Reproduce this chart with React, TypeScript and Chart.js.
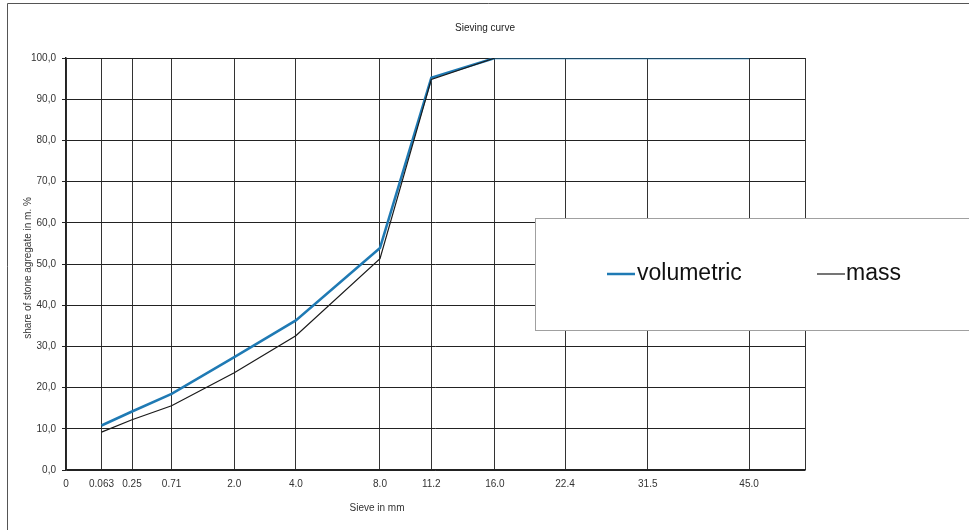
import React, { useEffect, useRef } from "react";
import { Chart, registerables, LinearScale } from "chart.js";

const TITLE = "Sieving curve";
const X_TITLE = "Sieve in mm";
const Y_TITLE = "share of stone agregate in m. %";

const SIEVES = [0.063, 0.25, 0.71, 2.0, 4.0, 8.0, 11.2, 16.0, 22.4, 31.5, 45.0];
const VOLUMETRIC = [10.8, 14.2, 18.5, 27.4, 36.3, 53.9, 95.2, 100, 100, 100, 100];
const MASS = [9.2, 12.2, 15.6, 23.6, 32.6, 51.3, 94.8, 100, 100, 100, 100];
const X_TICK_VALUES = [0, 0.063, 0.25, 0.71, 2.0, 4.0, 8.0, 11.2, 16.0, 22.4, 31.5, 45.0];
const X_TICK_LABELS = ["0", "0.063", "0.25", "0.71", "2.0", "4.0", "8.0", "11.2", "16.0", "22.4", "31.5", "45.0"];
const X_MAX = 53.6;
const EXPONENT = 0.45;

const SERIES_NAMES = ["volumetric", "mass"];
const SERIES_COLORS = ["#1f7ab4", "#1a1a1a"];

class PowerScale extends LinearScale {
  static id = "power";
  static defaults = {};
  tr(v: number) {
    return Math.pow(Math.max(v, 0), EXPONENT);
  }
  getPixelForValue(value: number) {
    const a = this.tr(this.min);
    const b = this.tr(this.max);
    return this.getPixelForDecimal((this.tr(value) - a) / (b - a));
  }
  getValueForPixel(pixel: number) {
    const a = this.tr(this.min);
    const b = this.tr(this.max);
    const d = this.getDecimalForPixel(pixel);
    return Math.pow(a + d * (b - a), 1 / EXPONENT);
  }
}

Chart.register(...registerables, PowerScale as any);

const FONT = "'Liberation Sans', Arial, sans-serif";

const decorPlugin = {
  id: "decor",
  beforeDraw(chart: any) {
    const ctx = chart.ctx;
    ctx.save();
    ctx.fillStyle = "#ffffff";
    ctx.fillRect(0, 0, chart.width, chart.height);
    ctx.strokeStyle = "#555555";
    ctx.lineWidth = 1;
    ctx.beginPath();
    ctx.moveTo(7.5, chart.height);
    ctx.lineTo(7.5, 3.5);
    ctx.lineTo(chart.width, 3.5);
    ctx.stroke();
    ctx.restore();
  },
  afterDraw(chart: any) {
    const ctx = chart.ctx;
    ctx.save();
    // titles
    ctx.fillStyle = "#222222";
    ctx.font = `10px ${FONT}`;
    ctx.textAlign = "center";
    ctx.textBaseline = "middle";
    ctx.fillText(TITLE, 485, 28);
    ctx.fillStyle = "#333333";
    ctx.fillText(X_TITLE, 377, 508);
    ctx.save();
    ctx.translate(28, 268);
    ctx.rotate(-Math.PI / 2);
    ctx.fillText(Y_TITLE, 0, 0);
    ctx.restore();

    // legend box
    ctx.fillStyle = "#ffffff";
    ctx.fillRect(535, 218, 450, 112);
    ctx.strokeStyle = "#a0a0a0";
    ctx.lineWidth = 1;
    ctx.strokeRect(535.5, 218.5, 450, 112);

    const items = [
      { x0: 607, x1: 635, tx: 637, w: 2.5 },
      { x0: 817, x1: 845, tx: 846, w: 1.2 },
    ];
    items.forEach((it, i) => {
      ctx.strokeStyle = SERIES_COLORS[i];
      ctx.lineWidth = it.w;
      ctx.beginPath();
      ctx.moveTo(it.x0, 274);
      ctx.lineTo(it.x1, 274);
      ctx.stroke();
      ctx.fillStyle = "#111111";
      ctx.font = `23px ${FONT}`;
      ctx.textAlign = "left";
      ctx.textBaseline = "middle";
      ctx.fillText(SERIES_NAMES[i], it.tx, 274);
    });
    ctx.restore();
  },
};

export default function App() {
  const ref = useRef<HTMLCanvasElement | null>(null);
  useEffect(() => {
    document.body.style.margin = "0";
    const canvas = ref.current!;
    const chart = new Chart(canvas, {
      type: "line",
      data: {
        datasets: [
          {
            label: SERIES_NAMES[0],
            data: SIEVES.map((s, i) => ({ x: s, y: VOLUMETRIC[i] })),
            borderColor: SERIES_COLORS[0],
            backgroundColor: SERIES_COLORS[0],
            borderWidth: 2.5,
            pointRadius: 0,
            tension: 0,
            order: 2,
          },
          {
            label: SERIES_NAMES[1],
            data: SIEVES.map((s, i) => ({ x: s, y: MASS[i] })),
            borderColor: SERIES_COLORS[1],
            backgroundColor: SERIES_COLORS[1],
            borderWidth: 1.2,
            pointRadius: 0,
            tension: 0,
            order: 1,
          },
        ],
      },
      options: {
        animation: false,
        responsive: false,
        devicePixelRatio: 1,
        layout: { padding: { left: 0, right: 164, top: 58, bottom: 0 } },
        plugins: {
          legend: { display: false },
          tooltip: { enabled: false },
          title: { display: false },
        },
        scales: {
          x: {
            type: "power" as any,
            min: 0,
            max: X_MAX,
            afterFit: (s: any) => {
              s.height = 60;
            },
            afterBuildTicks: (s: any) => {
              s.ticks = [...X_TICK_VALUES, X_MAX].map((v) => ({ value: v }));
            },
            grid: {
              color: "#333333",
              lineWidth: 1,
              tickLength: 0,
              drawTicks: false,
            },
            border: { display: true, color: "#222222", width: 1.5 },
            ticks: {
              autoSkip: false,
              maxRotation: 0,
              minRotation: 0,
              padding: 8,
              color: "#333333",
              font: { family: FONT, size: 10 },
              callback: (_v: any, i: number) => (i < X_TICK_LABELS.length ? X_TICK_LABELS[i] : ""),
            },
          },
          y: {
            min: 0,
            max: 100,
            afterFit: (s: any) => {
              s.width = 66;
            },
            grid: {
              color: "#222222",
              lineWidth: 1,
              tickLength: 4,
            },
            border: { display: true, color: "#222222", width: 1.5 },
            ticks: {
              stepSize: 10,
              padding: 6,
              color: "#333333",
              font: { family: FONT, size: 10 },
              callback: (v: any) => Number(v).toFixed(1).replace(".", ","),
            },
          },
        },
      },
      plugins: [decorPlugin],
    });
    return () => chart.destroy();
  }, []);
  return <canvas ref={ref} width={969} height={530} style={{ display: "block", width: 969, height: 530 }} />;
}
